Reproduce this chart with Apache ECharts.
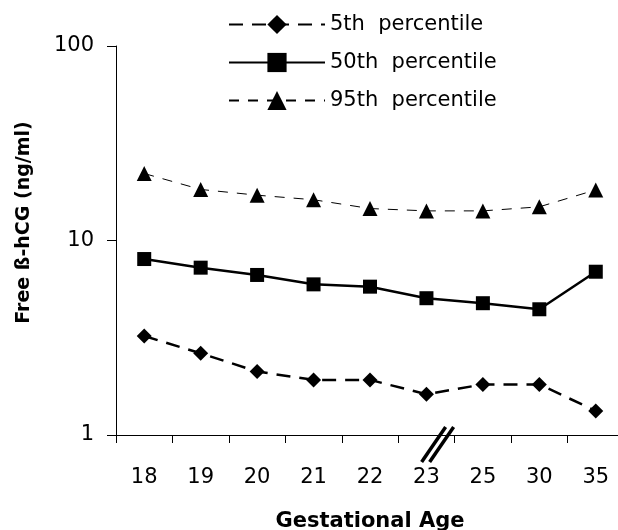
<!DOCTYPE html>
<html>
<head>
<meta charset="utf-8">
<script src="https://cdn.jsdelivr.net/npm/echarts@6/dist/echarts.min.js"></script>
<style>
html,body{margin:0;padding:0;background:#fff;}
#chart{width:618px;height:530px;}
</style>
</head>
<body>
<div id="chart"></div>
<script>
const categories = ['18','19','20','21','22','23','25','30','35'];
const p5 = [3.23, 2.63, 2.12, 1.92, 1.92, 1.62, 1.82, 1.82, 1.33];
const p50 = [8.03, 7.25, 6.65, 5.95, 5.79, 5.05, 4.76, 4.43, 6.91];
const p95 = [22.1, 18.3, 17.1, 16.2, 14.6, 14.2, 14.2, 14.9, 18.2];
const seriesNames = ['5th  percentile', '50th  percentile', '95th  percentile'];
const yTicks = [1, 10, 100];

const chart = echarts.init(document.getElementById('chart'), null, {renderer: 'canvas'});
const font = 'DejaVu Sans';
const option = {
  animation: false,
  backgroundColor: '#ffffff',
  grid: {left: 116, top: 46, width: 508, height: 389, containLabel: false, outerBoundsMode: 'none'},
  legend: {
    orient: 'vertical',
    left: 223,
    top: 9,
    itemWidth: 96,
    itemHeight: 24,
    itemGap: 17,
    itemStyle: {color: '#000'},
    textStyle: {fontFamily: font, fontSize: 21, color: '#000'},
    data: seriesNames
  },
  xAxis: {
    type: 'category',
    data: categories,
    boundaryGap: true,
    name: 'Gestational Age',
    nameLocation: 'middle',
    nameGap: 76,
    nameTextStyle: {fontFamily: font, fontWeight: 'bold', fontSize: 21, color: '#000'},
    axisLine: {lineStyle: {color: '#000', width: 1}},
    axisTick: {show: true, length: 8, lineStyle: {color: '#000'}},
    axisLabel: {fontFamily: font, fontSize: 21, color: '#000', margin: 32}
  },
  yAxis: {
    type: 'log',
    logBase: 10,
    min: 1,
    max: 100,
    name: 'Free ß-hCG (ng/ml)',
    nameLocation: 'middle',
    nameGap: 82,
    nameRotate: 90,
    nameTextStyle: {fontFamily: font, fontWeight: 'bold', fontSize: 19, color: '#000', padding: [0,0,0,36]},
    axisLine: {show: true, lineStyle: {color: '#000', width: 1}},
    axisTick: {show: true, length: 9, lineStyle: {color: '#000'}},
    splitLine: {show: false},
    axisLabel: {fontFamily: font, fontSize: 21, color: '#000', margin: 22,
      formatter: v => yTicks.includes(Math.round(v)) ? String(Math.round(v)) : ''}
  },
  series: [
    {
      name: seriesNames[0], type: 'line', data: p5,
      symbol: 'diamond', symbolSize: 15,
      itemStyle: {color: '#000'},
      lineStyle: {color: '#000', width: 2.5, type: [14, 9]}
    },
    {
      name: seriesNames[1], type: 'line', data: p50,
      symbol: 'rect', symbolSize: 14,
      itemStyle: {color: '#000'},
      lineStyle: {color: '#000', width: 2.5, type: 'solid'}
    },
    {
      name: seriesNames[2], type: 'line', data: p95,
      symbol: 'triangle', symbolSize: 15,
      itemStyle: {color: '#000'},
      lineStyle: {color: '#000', width: 1, type: [10, 9]}
    }
  ]
};
chart.setOption(option);

// axis break mark between 23 and 25
const a = chart.convertToPixel({gridIndex: 0}, ['23', 1]);
const b = chart.convertToPixel({gridIndex: 0}, ['25', 1]);
const bx = a[0] + (b[0] - a[0]) * 0.18;
const by = a[1] + 9;
chart.setOption({
  graphic: [
    {type: 'line', shape: {x1: bx - 15, y1: by + 18, x2: bx + 9, y2: by - 17}, style: {stroke: '#000', lineWidth: 3.5}},
    {type: 'line', shape: {x1: bx - 7, y1: by + 18, x2: bx + 17, y2: by - 17}, style: {stroke: '#000', lineWidth: 3.5}}
  ]
});
</script>
</body>
</html>
